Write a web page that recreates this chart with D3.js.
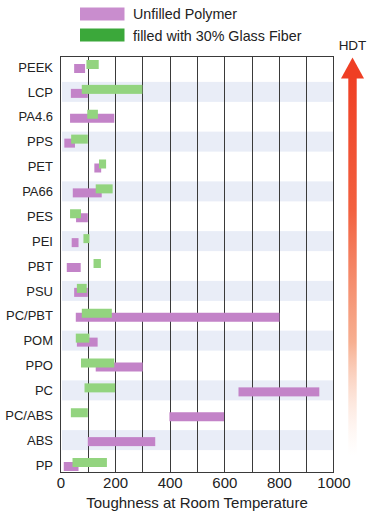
<!DOCTYPE html>
<html>
<head>
<meta charset="utf-8">
<script src="https://cdn.jsdelivr.net/npm/d3@7"></script>
<style>
  html, body { margin: 0; padding: 0; background: #fff; }
  svg { display: block; font-family: "Liberation Sans", Arial, Helvetica, sans-serif; }
</style>
</head>
<body>
<svg id="chart" width="374" height="516"></svg>
<script>
const categories = ["PEEK","LCP","PA4.6","PPS","PET","PA66","PES","PEI","PBT","PSU","PC/PBT","POM","PPO","PC","PC/ABS","ABS","PP"];
const unfilledLow  = [50, 38, 35, 14, 124, 45, 57, 41, 23, 50, 56, 60, 129, 652, 399, 100, 12];
const unfilledHigh = [90, 100, 197, 53, 149, 151, 100, 66, 74, 100, 802, 136, 301, 948, 599, 347, 66];
const glassLow  = [95, 78, 98, 39, 141, 129, 35, 84, 121, 60, 78, 56, 75, 88, 38, null, 44];
const glassHigh = [140, 300, 137, 100, 167, 191, 75, 106, 148, 96, 188, 106, 197, 200, 100, null, 170];
const xTicks = [0, 200, 400, 600, 800, 1000];
const gridValues = [100, 200, 300, 400, 500, 600, 700, 800, 900];
const seriesNames = ["Unfilled Polymer", "filled with 30% Glass Fiber"];
const xTitle = "Toughness at Room Temperature";
const arrowLabel = "HDT";

const svg = d3.select("#chart");
const W = 374, H = 516;
const plot = { left: 60.5, right: 333.5, top: 56, bottom: 472 };

const x = d3.scaleLinear().domain([0, 1000]).range([plot.left, plot.right]);
const y = d3.scalePoint().domain(categories).range([67, 465]);

const purple = "#c383c8", green = "#93d47f";
const legendPurple = "#c98dce", legendGreen = "#3ba83a";

// defs gradient for HDT arrow
const defs = svg.append("defs");
const grad = defs.append("linearGradient").attr("id", "hdt")
  .attr("x1", 0).attr("y1", 0).attr("x2", 0).attr("y2", 1);
grad.append("stop").attr("offset", "0%").attr("stop-color", "#ef3f24").attr("stop-opacity", 1);
grad.append("stop").attr("offset", "35%").attr("stop-color", "#f2603f").attr("stop-opacity", 1);
grad.append("stop").attr("offset", "70%").attr("stop-color", "#f6a684").attr("stop-opacity", 0.9);
grad.append("stop").attr("offset", "100%").attr("stop-color", "#fde3d6").attr("stop-opacity", 0);

// alternating bands
svg.append("g").selectAll("rect")
  .data(categories.filter((d, i) => i % 2 === 1))
  .join("rect")
  .attr("x", plot.left + 1.5)
  .attr("width", plot.right - plot.left - 1.5)
  .attr("y", d => y(d) - 10)
  .attr("height", 20)
  .attr("fill", "#e9edf7");

// grid lines
svg.append("g").selectAll("line")
  .data(gridValues)
  .join("line")
  .attr("x1", d => Math.round(x(d)) + 0.5)
  .attr("x2", d => Math.round(x(d)) + 0.5)
  .attr("y1", plot.top).attr("y2", plot.bottom)
  .attr("stroke", "#3a3a3a").attr("stroke-width", 1);

// frame
svg.append("rect")
  .attr("x", plot.left).attr("y", plot.top + 0.5)
  .attr("width", plot.right - plot.left)
  .attr("height", plot.bottom - plot.top)
  .attr("fill", "none").attr("stroke", "#3a3a3a").attr("stroke-width", 1);

// unfilled bars
const barH = 9;
svg.append("g").selectAll("rect")
  .data(categories.map((c, i) => ({ c, lo: unfilledLow[i], hi: unfilledHigh[i] })))
  .join("rect")
  .attr("x", d => x(d.lo))
  .attr("width", d => x(d.hi) - x(d.lo))
  .attr("y", d => y(d.c) - 3)
  .attr("height", barH)
  .attr("fill", purple);

// glass fibre bars
svg.append("g").selectAll("rect")
  .data(categories.map((c, i) => ({ c, lo: glassLow[i], hi: glassHigh[i] })).filter(d => d.lo != null))
  .join("rect")
  .attr("x", d => x(d.lo))
  .attr("width", d => x(d.hi) - x(d.lo))
  .attr("y", d => y(d.c) - 7)
  .attr("height", barH)
  .attr("fill", green);

// category axis
const yAxis = svg.append("g")
  .attr("transform", `translate(${plot.left - 7.5},0)`)
  .call(d3.axisLeft(y).tickSize(0).tickPadding(0));
yAxis.select(".domain").remove();
yAxis.selectAll("text")
  .attr("font-size", 13).attr("fill", "#222")
  .attr("font-family", '"Liberation Sans", Arial, sans-serif');

// x axis tick labels
const xAxis = svg.append("g")
  .attr("transform", `translate(0,${plot.bottom})`)
  .call(d3.axisBottom(x).tickValues(xTicks).tickSize(0).tickPadding(5).tickFormat(d3.format("d")));
xAxis.select(".domain").remove();
xAxis.selectAll("text")
  .attr("font-size", 15).attr("fill", "#222")
  .attr("font-family", '"Liberation Sans", Arial, sans-serif');

// x title
svg.append("text")
  .attr("x", (plot.left + plot.right) / 2).attr("y", 508)
  .attr("text-anchor", "middle")
  .attr("font-size", 15).attr("fill", "#222")
  .text(xTitle);

// legend
const legend = svg.append("g");
[legendPurple, legendGreen].forEach((col, i) => {
  legend.append("rect")
    .attr("x", 80).attr("y", 7.5 + i * 21)
    .attr("width", 44.5).attr("height", 13)
    .attr("fill", col);
  legend.append("text")
    .attr("x", 133).attr("y", 19 + i * 21.5)
    .attr("font-size", 14.3).attr("fill", "#222")
    .text(seriesNames[i]);
});

// HDT arrow
const ax = 352.5;
svg.append("rect")
  .attr("x", ax - 4.2).attr("y", 76)
  .attr("width", 8.4).attr("height", 380)
  .attr("fill", "url(#hdt)");
svg.append("path")
  .attr("d", `M${ax},57.5 L${ax + 11.5},78.5 L${ax - 11.5},78.5 Z`)
  .attr("fill", "#ef3f24");
svg.append("text")
  .attr("x", ax).attr("y", 50)
  .attr("text-anchor", "middle")
  .attr("font-size", 13.5).attr("fill", "#222")
  .text(arrowLabel);
</script>
</body>
</html>
